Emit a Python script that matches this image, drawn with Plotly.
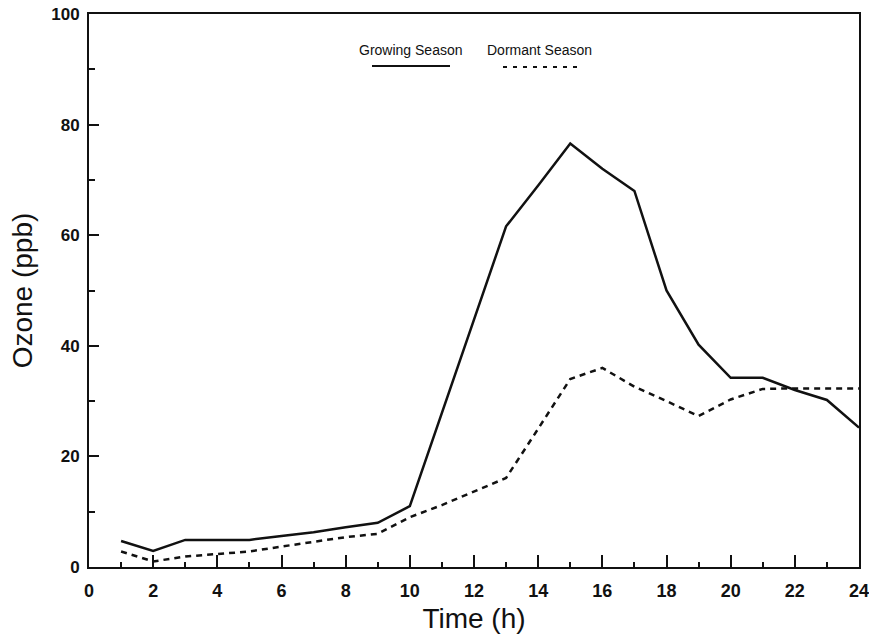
import plotly.graph_objects as go

hours = list(range(1, 25))
growing = [4.7, 2.9, 4.9, 4.9, 4.9, 5.6, 6.3, 7.2, 8.0, 11.0, 28, 45,
           61.6, 69, 76.6, 72, 68, 50, 40.2, 34.2, 34.2, 32, 30.2, 25.2]
dormant = [2.8, 1.0, 1.9, 2.3, 2.8, 3.7, 4.5, 5.4, 6.0, 9.0, 11.2, 13.6,
           16.1, 25, 34, 36, 32.6, 30, 27.3, 30.3, 32.2, 32.3, 32.3, 32.3]
x_ticks = list(range(0, 25, 2))
y_ticks = list(range(0, 101, 20))

font = "Liberation Sans, Arial, Helvetica, sans-serif"
ink = "#111111"

# plot area in page pixels
PX0, PX1, PY0, PY1 = 89, 859, 14, 567
W, H = 869, 640


def px(x):
    return (x - PX0) / (PX1 - PX0)


def py(y):
    return (PY1 - y) / (PY1 - PY0)


fig = go.Figure()
fig.add_trace(go.Scatter(x=hours, y=growing, mode="lines", name="Growing Season",
                         line=dict(color=ink, width=2.5)))
fig.add_trace(go.Scatter(x=hours, y=dormant, mode="lines", name="Dormant Season",
                         line=dict(color=ink, width=2.5, dash="6px,5px")))

fig.update_layout(
    width=W, height=H,
    margin=dict(l=PX0, r=W - PX1, t=PY0, b=H - PY1),
    paper_bgcolor="white", plot_bgcolor="white",
    showlegend=False,
    font=dict(family=font, color=ink),
    xaxis=dict(range=[0, 24], tickvals=x_ticks, ticks="inside", ticklen=12,
               tickwidth=1.5, tickcolor=ink, ticklabelstandoff=6,
               ticklabeloverflow="allow", automargin=False,
               minor=dict(dtick=1, ticks="inside", ticklen=5, tickwidth=1.5, tickcolor=ink),
               showline=True, linewidth=2, linecolor=ink, mirror=True,
               showgrid=False, zeroline=False,
               tickfont=dict(size=18, family=font, weight="bold"),
               title=dict(text="Time (h)", font=dict(size=28, family=font), standoff=9)),
    yaxis=dict(range=[0, 100], tickvals=y_ticks, ticks="inside", ticklen=10,
               tickwidth=1.5, tickcolor=ink, ticklabelstandoff=4,
               ticklabeloverflow="allow", automargin=False,
               minor=dict(dtick=10, ticks="inside", ticklen=6, tickwidth=1.5, tickcolor=ink),
               showline=True, linewidth=2, linecolor=ink, mirror=True,
               showgrid=False, zeroline=False,
               tickfont=dict(size=17, family=font, weight="bold"),
               title=dict(text="Ozone (ppb)", font=dict(size=28, family=font), standoff=10)),
)

# legend drawn as text with sample lines below
fig.add_annotation(x=px(411), y=py(50), xref="paper", yref="paper",
                   xanchor="center", yanchor="middle",
                   text="Growing Season", showarrow=False,
                   font=dict(size=14, family=font, color=ink))
fig.add_annotation(x=px(539), y=py(50), xref="paper", yref="paper",
                   xanchor="center", yanchor="middle",
                   text="Dormant Season", showarrow=False,
                   font=dict(size=14, family=font, color=ink))
fig.add_shape(type="line", xref="paper", yref="paper",
              x0=px(372), x1=px(450), y0=py(66), y1=py(66),
              line=dict(color=ink, width=2))
fig.add_shape(type="line", xref="paper", yref="paper",
              x0=px(503), x1=px(580), y0=py(67), y1=py(67),
              line=dict(color=ink, width=2, dash="4px,6px"))

fig.write_html(
    "out.html",
    config={"displayModeBar": False},
    post_script="document.body.style.margin='0';"
                "document.documentElement.style.overflow='hidden';",
)
